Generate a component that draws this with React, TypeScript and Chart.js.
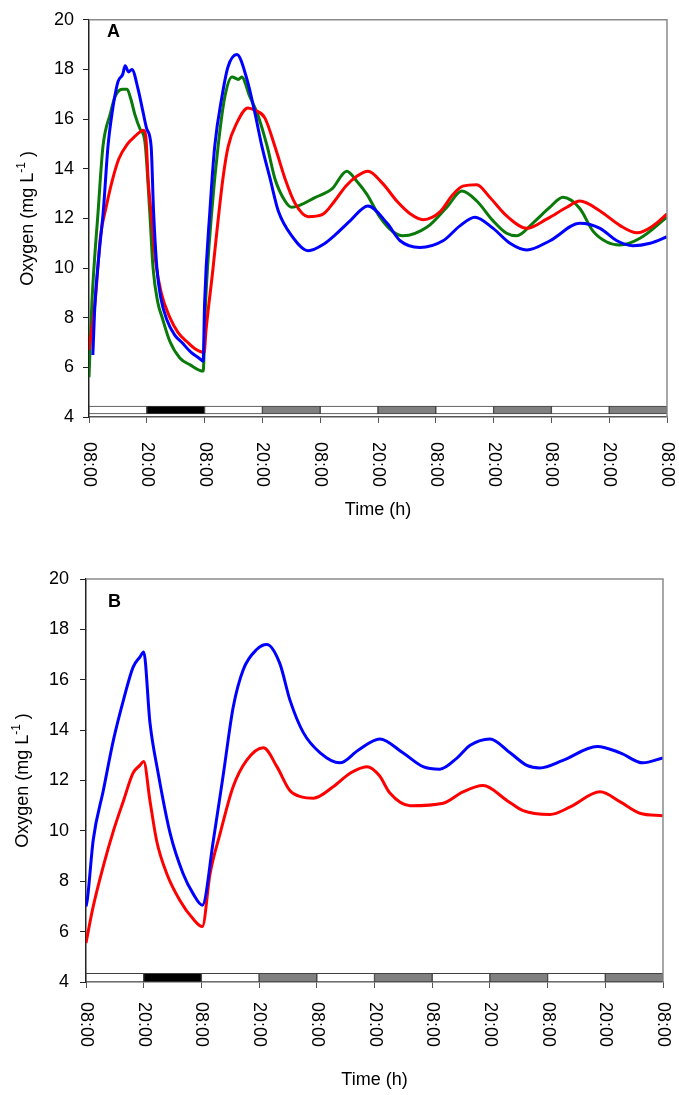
import React, { useEffect, useRef } from "react";
import { Chart, registerables } from "chart.js";

Chart.register(...registerables);

const FONT = '"Liberation Sans", Arial, sans-serif';

// X axis: hours since first 08:00 (12 h between ticks)
const xTickLabels = ["08:00", "20:00", "08:00", "20:00", "08:00", "20:00", "08:00", "20:00", "08:00", "20:00", "08:00"];
// Light / dark bar along the bottom
const phaseCenters = [6, 18, 30, 42, 54, 66, 78, 90, 102, 114];
const phaseColors = ["#ffffff", "#000000", "#ffffff", "#808080", "#ffffff", "#808080", "#ffffff", "#808080", "#ffffff", "#808080"];
const phaseRangeA = [4.12, 4.44];
const phaseRangeB = [4.0, 4.34];

// Panel A
const aBlueT = [0.8, 1.25, 2.1, 2.97, 3.94, 4.76, 6.0, 7.0, 7.5, 8.2, 8.9, 10.2, 11.2, 12.0, 12.9, 13.4, 14.1, 14.9, 16.2, 17.8, 19.3, 21.2, 23.0, 23.7, 24.0, 25.1, 26.1, 27.6, 28.85, 30.7, 32.8, 34.5, 35.9, 37.6, 39.3, 42.1, 45.5, 49.0, 50.9, 54.2, 57.9, 61.9, 64.6, 68.7, 73.5, 77.0, 80.1, 83.9, 87.4, 90.9, 95.7, 101.9, 106.1, 109.6, 112.9, 116.5, 120];
const aBlueV = [6.5, 8.6, 10.6, 12.3, 14.9, 16.2, 17.5, 17.8, 18.15, 17.9, 18.0, 17.2, 16.3, 15.6, 14.9, 12.3, 10.0, 8.8, 7.9, 7.3, 7.0, 6.6, 6.35, 6.25, 8.6, 12.3, 14.9, 16.9, 18.1, 18.6, 17.6, 16.2, 14.9, 13.6, 12.3, 11.3, 10.7, 11.0, 11.3, 11.9, 12.5, 11.8, 11.1, 10.83, 11.1, 11.7, 12.05, 11.6, 11.0, 10.73, 11.1, 11.8, 11.6, 11.1, 10.9, 11.0, 11.26];

const aGreenT = [0, 0.6, 1.9, 2.9, 4.4, 5.4, 6.9, 7.9, 8.7, 9.5, 10.6, 11.6, 12.6, 13.3, 14.3, 15.2, 16.8, 18.9, 21.0, 23.7, 24.2, 25.5, 26.8, 28.2, 29.7, 31.0, 31.7, 33.4, 35.0, 37.0, 38.6, 40.7, 42.1, 47.0, 50.5, 53.5, 55.6, 57.7, 60.4, 63.1, 65.2, 70.2, 74.3, 77.4, 80.5, 83.9, 86.7, 88.8, 92.1, 95.7, 98.4, 101.9, 104.6, 107.5, 110.2, 114.4, 120];
const aGreenV = [5.6, 8.6, 12.3, 14.9, 16.2, 16.9, 17.2, 17.2, 16.8, 16.2, 15.6, 15.1, 12.3, 10.0, 8.6, 8.0, 7.04, 6.37, 6.1, 5.85, 8.6, 12.3, 14.9, 16.9, 17.7, 17.6, 17.7, 16.9, 16.2, 14.9, 13.6, 12.7, 12.45, 12.85, 13.2, 13.9, 13.5, 12.97, 12.05, 11.46, 11.3, 11.65, 12.45, 13.1, 12.7, 11.9, 11.4, 11.3, 11.8, 12.45, 12.85, 12.4, 11.5, 11.05, 10.93, 11.2, 12.05];

const aRedT = [0, 1.25, 2.4, 3.5, 4.8, 6.2, 8.0, 9.5, 11.3, 11.8, 12.3, 13.0, 13.8, 15.0, 16.8, 18.5, 20.3, 22.0, 23.9, 24.3, 25.7, 26.4, 27.8, 28.9, 30.7, 33.0, 34.5, 36.5, 38.6, 40.7, 42.8, 45.5, 48.4, 51.0, 53.3, 55.6, 57.9, 61.0, 63.9, 66.6, 69.4, 72.8, 75.6, 77.6, 80.5, 83.2, 86.7, 90.9, 95.1, 99.2, 101.9, 106.1, 110.2, 113.8, 117.1, 120];
const aRedV = [6.7, 8.6, 11.3, 12.4, 13.5, 14.4, 15.0, 15.3, 15.55, 15.3, 13.5, 12.0, 10.3, 9.0, 8.0, 7.4, 7.04, 6.75, 6.6, 7.5, 9.9, 11.2, 13.6, 14.9, 15.85, 16.45, 16.35, 16.05, 14.9, 13.6, 12.6, 12.07, 12.15, 12.7, 13.3, 13.7, 13.9, 13.4, 12.7, 12.2, 11.95, 12.25, 12.97, 13.3, 13.36, 12.85, 12.1, 11.6, 11.98, 12.45, 12.7, 12.3, 11.72, 11.42, 11.7, 12.18];

// Panel B
const bBlueT = [0, 0.3, 1.5, 3.6, 5.7, 7.8, 9.8, 11.2, 12.0, 13.3, 15.0, 17.5, 20.2, 22.3, 24.2, 26.5, 28.6, 30.6, 32.7, 35.5, 37.6, 40.3, 42.4, 45.2, 48.7, 52.8, 56.6, 61.1, 65.9, 70.1, 73.6, 77.2, 79.9, 84.0, 88.2, 91.7, 94.4, 99.2, 106.3, 111.1, 115.8, 120];
const bBlueV = [7.0, 7.3, 9.64, 11.6, 13.6, 15.2, 16.5, 16.9, 17.1, 14.3, 12.3, 9.9, 8.3, 7.5, 7.05, 9.64, 12.3, 14.9, 16.4, 17.2, 17.4, 16.65, 15.2, 13.9, 13.1, 12.7, 13.2, 13.65, 13.1, 12.55, 12.45, 12.9, 13.4, 13.65, 13.1, 12.6, 12.5, 12.8, 13.35, 13.1, 12.7, 12.9];

const bRedT = [0, 1.5, 3.6, 5.7, 7.8, 9.8, 11.2, 12.0, 13.3, 14.7, 16.8, 19.5, 22.3, 24.2, 25.8, 27.9, 30.6, 33.4, 36.9, 39.7, 42.4, 44.8, 47.3, 51.4, 55.0, 58.4, 61.0, 63.2, 67.4, 74.3, 78.4, 82.6, 87.6, 90.9, 96.5, 100.7, 106.9, 111.1, 115.2, 120];
const bRedV = [5.55, 7.0, 8.6, 10.0, 11.2, 12.3, 12.6, 12.75, 11.2, 9.6, 8.3, 7.25, 6.5, 6.2, 8.3, 9.9, 11.75, 12.8, 13.3, 12.55, 11.6, 11.35, 11.3, 11.75, 12.3, 12.55, 12.2, 11.5, 11.0, 11.1, 11.55, 11.8, 11.2, 10.8, 10.65, 10.95, 11.55, 11.15, 10.7, 10.6];

const BLUE = "#0000ff";
const GREEN = "#0a7a0a";
const RED = "#ff0000";

const pts = (t: number[], v: number[]) => t.map((x, i) => ({ x, y: v[i] }));

const lineDs = (t: number[], v: number[], color: string) => ({
  type: "line" as const,
  data: pts(t, v),
  borderColor: color,
  backgroundColor: color,
  borderWidth: 3,
  pointRadius: 0,
  cubicInterpolationMode: "monotone" as const,
  fill: false,
  order: 1,
});

const phaseDs = (range: number[]) => ({
  type: "bar" as const,
  data: phaseCenters.map((x) => ({ x, y: range })),
  backgroundColor: phaseColors,
  borderColor: "#404040",
  borderWidth: 1,
  borderSkipped: false,
  barPercentage: 1,
  categoryPercentage: 1,
  order: 2,
});

type Spec = {
  letter: string;
  letterX: number;
  letterY: number;
  titleX: number;
  xLabelTop: number;
  timeY: number;
  yWidth: number;
  tickPad: number;
  padding: { left: number; right: number; top: number; bottom: number };
  datasets: any[];
};

function decorPlugin(spec: Spec) {
  return {
    id: "decor" + spec.letter,
    afterDraw(chart: any) {
      const { ctx, chartArea, scales } = chart;
      ctx.save();
      // gray frame top/right
      ctx.strokeStyle = "#8a8a8a";
      ctx.lineWidth = 1.5;
      ctx.beginPath();
      ctx.moveTo(chartArea.left, chartArea.top);
      ctx.lineTo(chartArea.right, chartArea.top);
      ctx.lineTo(chartArea.right, chartArea.bottom);
      ctx.stroke();

      ctx.fillStyle = "#000";
      // rotated x tick labels (reading top to bottom)
      ctx.font = `18px ${FONT}`;
      scales.x.ticks.forEach((tk: any, i: number) => {
        const px = scales.x.getPixelForValue(tk.value);
        ctx.save();
        ctx.translate(px, spec.xLabelTop);
        ctx.rotate(Math.PI / 2);
        ctx.textAlign = "left";
        ctx.textBaseline = "middle";
        ctx.fillText(xTickLabels[i] ?? "", 0, 0);
        ctx.restore();
      });

      // x title
      ctx.textAlign = "center";
      ctx.textBaseline = "middle";
      ctx.font = `18px ${FONT}`;
      ctx.fillText("Time (h)", (chartArea.left + chartArea.right) / 2, spec.timeY);

      // y title with superscript
      const cy = (chartArea.top + chartArea.bottom) / 2;
      const main = "Oxygen (mg L";
      const sup = "-1";
      const tail = " )";
      ctx.font = `18px ${FONT}`;
      const wMain = ctx.measureText(main).width;
      const wTail = ctx.measureText(tail).width;
      ctx.font = `12px ${FONT}`;
      const wSup = ctx.measureText(sup).width;
      const total = wMain + wSup + wTail;
      ctx.save();
      ctx.translate(spec.titleX, cy);
      ctx.rotate(-Math.PI / 2);
      ctx.textAlign = "left";
      ctx.textBaseline = "alphabetic";
      let xx = -total / 2;
      ctx.font = `18px ${FONT}`;
      ctx.fillText(main, xx, 6);
      xx += wMain;
      ctx.font = `12px ${FONT}`;
      ctx.fillText(sup, xx, -2);
      xx += wSup;
      ctx.font = `18px ${FONT}`;
      ctx.fillText(tail, xx, 6);
      ctx.restore();

      // panel letter
      ctx.font = `bold 18px ${FONT}`;
      ctx.textAlign = "left";
      ctx.textBaseline = "middle";
      ctx.fillText(spec.letter, spec.letterX, spec.letterY);
      ctx.restore();
    },
  };
}

function Panel({ spec, top, height }: { spec: Spec; top: number; height: number }) {
  const ref = useRef<HTMLCanvasElement | null>(null);
  useEffect(() => {
    if (!ref.current) return;
    const chart = new Chart(ref.current, {
      type: "line",
      data: { datasets: spec.datasets },
      options: {
        animation: false,
        responsive: false,
        devicePixelRatio: 1,
        layout: { padding: spec.padding },
        plugins: { legend: { display: false }, tooltip: { enabled: false } },
        scales: {
          x: {
            type: "linear",
            min: 0,
            max: 120,
            offset: false,
            ticks: { stepSize: 12, display: false },
            grid: { drawOnChartArea: false, drawTicks: true, tickLength: 6, color: "#555", offset: false },
            border: { color: "#555", width: 1.5 },
            afterFit: (s: any) => {
              s.height = 100;
            },
          },
          y: {
            type: "linear",
            min: 4,
            max: 20,
            ticks: { stepSize: 2, color: "#000", padding: spec.tickPad, font: { size: 18, family: FONT } },
            grid: { drawOnChartArea: false, drawTicks: true, tickLength: 6, color: "#222" },
            border: { color: "#222", width: 1.5 },
            afterFit: (s: any) => {
              s.width = spec.yWidth;
            },
          },
        },
      } as any,
      plugins: [decorPlugin(spec)],
    });
    return () => chart.destroy();
  }, []);
  return (
    <canvas
      ref={ref}
      width={679}
      height={height}
      style={{ position: "absolute", left: 0, top, width: 679, height, display: "block" }}
    />
  );
}

const specA: Spec = {
  letter: "A",
  letterX: 107,
  letterY: 32,
  titleX: 27,
  xLabelTop: 442,
  timeY: 510,
  yWidth: 89,
  tickPad: 9,
  padding: { left: 0, right: 12, top: 12, bottom: 28 },
  datasets: [lineDs(aBlueT, aBlueV, BLUE), lineDs(aRedT, aRedV, RED), lineDs(aGreenT, aGreenV, GREEN), phaseDs(phaseRangeA)],
};

const specB: Spec = {
  letter: "B",
  letterX: 108,
  letterY: 54,
  titleX: 22,
  xLabelTop: 454,
  timeY: 532,
  yWidth: 86,
  tickPad: 11,
  padding: { left: 0, right: 16, top: 31, bottom: 13 },
  datasets: [lineDs(bBlueT, bBlueV, BLUE), lineDs(bRedT, bRedV, RED), phaseDs(phaseRangeB)],
};

export default function App() {
  return (
    <div style={{ position: "absolute", left: 0, top: 0, width: 679, height: 1095, background: "#fff" }}>
      <Panel spec={specA} top={0} height={545} />
      <Panel spec={specB} top={548} height={547} />
    </div>
  );
}
